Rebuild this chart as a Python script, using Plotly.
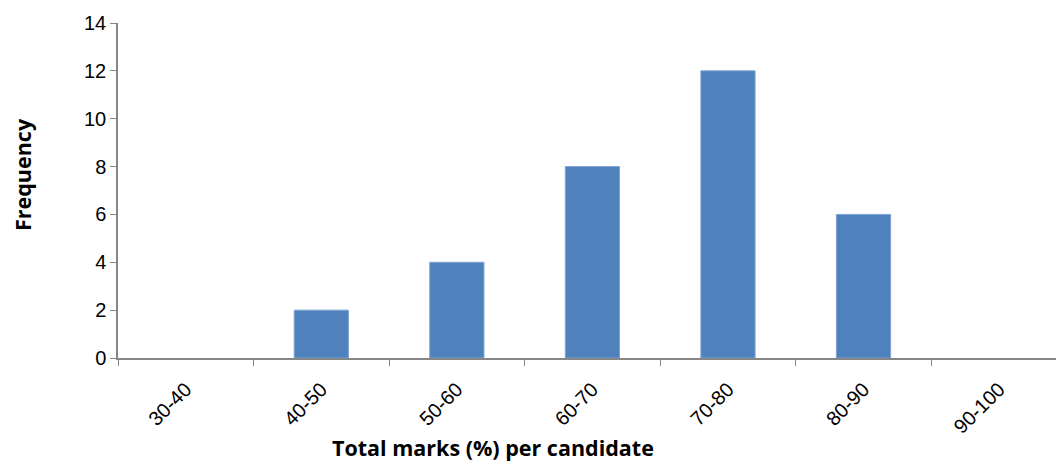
import plotly.graph_objects as go

categories = ["30-40", "40-50", "50-60", "60-70", "70-80", "80-90", "90-100"]
frequency = [0, 2, 4, 8, 12, 6, 0]

axis_grey = "#868686"
tick_font = dict(family="Liberation Sans, Arial, sans-serif", size=20, color="#000000")
title_font = dict(family="Open Sans, Liberation Sans, sans-serif", size=21.5, color="#000000")

fig = go.Figure(
    go.Bar(
        x=categories,
        y=frequency,
        width=0.4,
        marker=dict(
            color="#4F81BD",
            line=dict(color="#7FA3D3", width=[0 if v == 0 else 1 for v in frequency]),
        ),
    )
)

fig.update_layout(
    width=1056,
    height=464,
    margin=dict(l=118, r=0, t=23, b=106),
    paper_bgcolor="white",
    plot_bgcolor="white",
    showlegend=False,
    xaxis=dict(
        type="category",
        range=[-0.5, 6.42],
        tickson="boundaries",
        ticks="outside",
        ticklen=6,
        tickcolor=axis_grey,
        showline=True,
        linecolor=axis_grey,
        linewidth=1.5,
        showgrid=False,
        tickangle=-45,
        tickfont=tick_font,
        ticklabelstandoff=10,
    ),
    yaxis=dict(
        range=[0, 14],
        tickvals=[0, 2, 4, 6, 8, 10, 12, 14],
        ticks="outside",
        ticklen=6,
        tickcolor=axis_grey,
        showline=True,
        linecolor=axis_grey,
        linewidth=1.5,
        showgrid=False,
        zeroline=False,
        tickfont=tick_font,
    ),
    annotations=[
        dict(
            text="<b>Total marks (%) per candidate</b>",
            xref="paper", yref="paper",
            x=(493 - 118) / 938, y=-(447 - 358) / 335,
            xanchor="center", yanchor="middle",
            showarrow=False,
            font=title_font,
        ),
        dict(
            text="<b>Frequency</b>",
            xref="paper", yref="paper",
            x=-(118 - 22) / 938, y=(358 - 175) / 335,
            xanchor="center", yanchor="middle",
            textangle=-90,
            showarrow=False,
            font=title_font,
        ),
    ],
)

fig.write_html("out.html")
